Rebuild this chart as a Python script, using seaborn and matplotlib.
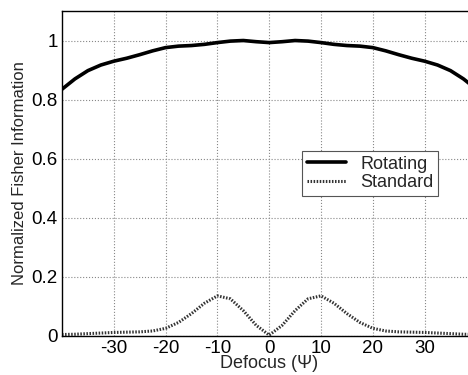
import matplotlib
matplotlib.use("Agg")
import matplotlib.pyplot as plt
import seaborn as sns
import pandas as pd

defocus = [-40, -37.5, -35, -32.5, -30, -27.5, -25, -22.5, -20, -17.5, -15, -12.5, -10, -7.5, -5, -2.5,
           0, 2.5, 5, 7.5, 10, 12.5, 15, 17.5, 20, 22.5, 25, 27.5, 30, 32.5, 35, 37.5, 40]
rotating = [0.835, 0.870, 0.898, 0.917, 0.930, 0.940, 0.952, 0.965, 0.976, 0.981, 0.983, 0.987,
            0.993, 0.998, 1.000, 0.996, 0.993, 0.996, 1.000, 0.998, 0.993, 0.987, 0.983, 0.981,
            0.976, 0.965, 0.952, 0.940, 0.930, 0.917, 0.898, 0.870, 0.835]
standard = [0.004, 0.005, 0.007, 0.009, 0.011, 0.012, 0.013, 0.016, 0.025, 0.045, 0.075, 0.110,
            0.135, 0.125, 0.085, 0.035, 0.002, 0.035, 0.085, 0.125, 0.135, 0.110, 0.075, 0.045,
            0.025, 0.016, 0.013, 0.012, 0.011, 0.009, 0.007, 0.005, 0.004]
xticks = [-30, -20, -10, 0, 10, 20, 30]
yticks = [0, 0.2, 0.4, 0.6, 0.8, 1]
ytick_labels = ["0", "0.2", "0.4", "0.6", "0.8", "1"]

sns.set_style("white")
plt.rcParams['font.family'] = ['Liberation Sans', 'DejaVu Sans']

fig = plt.figure(figsize=(4.68, 3.75), dpi=100)
ax = fig.add_axes([62/468, 39.3/375, 414.4/468, 324.7/375])

df = pd.DataFrame({"x": defocus, "Rotating": rotating, "Standard": standard})
sns.lineplot(data=df, x="x", y="Rotating", ax=ax, color="black", linewidth=2.6, label="Rotating")
sns.lineplot(data=df, x="x", y="Standard", ax=ax, color="#333333", linewidth=2.2,
             linestyle=(0, (0.5, 0.5)), label="Standard")

ax.set_xlim(-40, 40)
ax.set_ylim(0, 1.1)
ax.set_xticks(xticks)
ax.set_xticklabels([str(t) for t in xticks])
ax.set_yticks(yticks)
ax.set_yticklabels(ytick_labels)
ax.tick_params(direction="in", length=3, labelsize=13.5, pad=3, colors="black")
ax.grid(True, linestyle=":", color="#888888", linewidth=0.8)
for s in ax.spines.values():
    s.set_color("black")
    s.set_linewidth(1.0)
ax.set_xlabel("Defocus (Ψ)", fontsize=13, labelpad=-1)
ax.set_ylabel("Normalized Fisher Information", fontsize=12, labelpad=3)

leg = ax.legend(loc="upper left", bbox_to_anchor=((302-62)/414.4, (335.7-151)/324.7),
                fontsize=13, frameon=True, fancybox=False, framealpha=1,
                edgecolor="#555555", borderpad=0.25, handlelength=2.2, labelspacing=0.1,
                handletextpad=0.8, borderaxespad=0)
leg.get_frame().set_linewidth(0.8)

fig.savefig("out.png", dpi=100)
